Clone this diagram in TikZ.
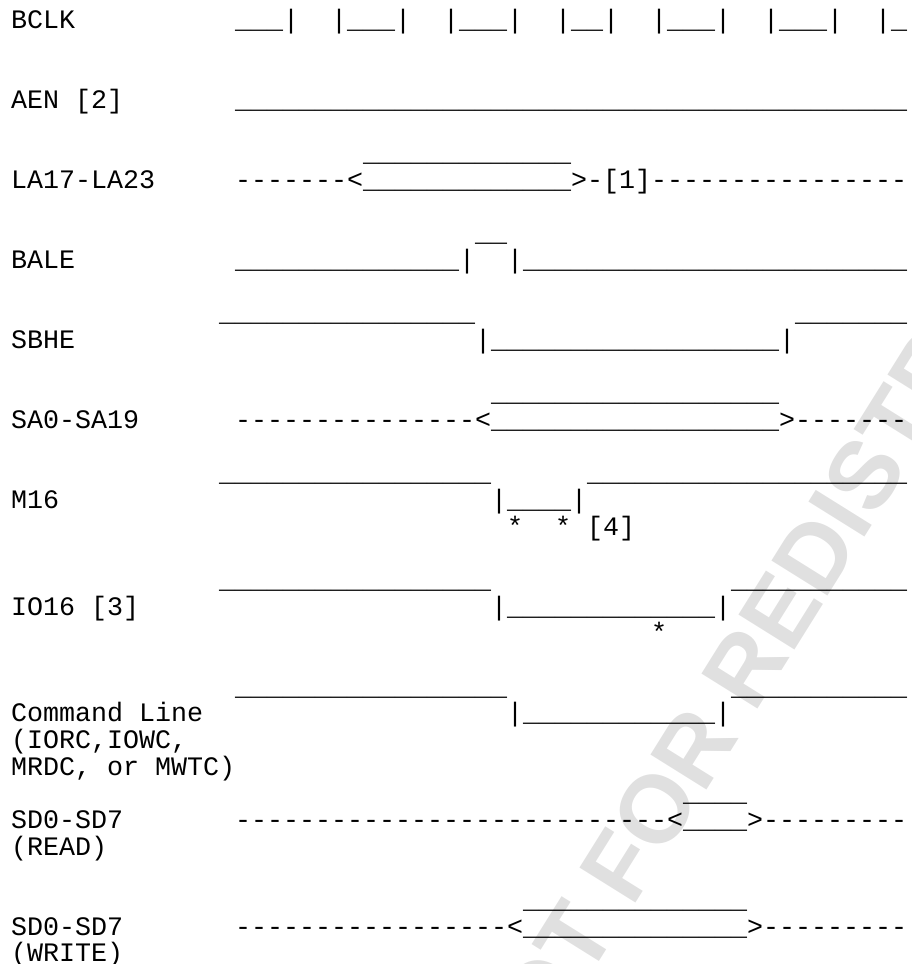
\documentclass[tikz,border=0pt]{standalone}
\usepackage{fontspec}
\setmonofont{Liberation Mono}
\setsansfont{Liberation Sans}
\begin{document}
\catcode`\_=12
\begin{tikzpicture}[
		x=16pt, y=-26.667pt, % one character cell, one text row
		lbl/.style={anchor=base west, inner sep=0pt, font=\ttfamily\fontsize{26.667}{26.667}\selectfont},
		wave/.style={lbl},
		stamp/.style={inner sep=0pt, rotate=58, text=black!12, font=\sffamily\bfseries\fontsize{96}{96}\selectfont}
		]
		\useasboundingbox (-0.6875,-1.0688) rectangle (56.3125,35.081);
		% Watermark
		\node[stamp] (stamp) at (50.625,19.37) {NOT FOR REDISTRIBUTION};
		% BCLK
		\node[lbl] (bclk) at (0,0) {BCLK};
		\node[wave] (bclkW) at (14,0) {___|~~|___|~~|___|~~|__|~~|___|~~|___|~~|_};
		% AEN
		\node[lbl] (aen) at (0,3) {AEN [2]};
		\node[wave] (aenW) at (14,3) {__________________________________________};
		% LA17-LA23
		\node[wave] (laHi) at (22,5) {_____________};
		\node[lbl] (la) at (0,6) {LA17-LA23};
		\node[wave] (laW) at (14,6) {-------<_____________>-[1]----------------};
		% BALE
		\node[wave] (baleHi) at (29,8) {__};
		\node[lbl] (bale) at (0,9) {BALE};
		\node[wave] (baleW) at (14,9) {______________|~~|________________________};
		% SBHE
		\node[wave] (sbheHiA) at (13,11) {________________};
		\node[wave] (sbheHiB) at (49,11) {_______};
		\node[lbl] (sbhe) at (0,12) {SBHE};
		\node[wave] (sbheW) at (29,12) {|__________________|};
		% SA0-SA19
		\node[wave] (saHi) at (30,14) {__________________};
		\node[lbl] (sa) at (0,15) {SA0-SA19};
		\node[wave] (saW) at (14,15) {---------------<__________________>-------};
		% M16
		\node[wave] (mHiA) at (13,17) {_________________};
		\node[wave] (mHiB) at (36,17) {____________________};
		\node[lbl] (m) at (0,18) {M16};
		\node[wave] (mW) at (30,18) {|____|};
		\node[wave] (mNote) at (31,19) {*~~*~[4]};
		% IO16
		\node[wave] (ioHiA) at (13,21) {_________________};
		\node[wave] (ioHiB) at (45,21) {___________};
		\node[lbl] (io) at (0,22) {IO16 [3]};
		\node[wave] (ioW) at (30,22) {|_____________|};
		\node[wave] (ioNote) at (40,23) {*};
		% Command line
		\node[wave] (cmdHiA) at (14,25) {_________________};
		\node[wave] (cmdHiB) at (45,25) {___________};
		\node[lbl] (cmd) at (0,26) {Command Line};
		\node[lbl] (cmdB) at (0,27) {(IORC,IOWC,};
		\node[lbl] (cmdC) at (0,28) {MRDC, or MWTC)};
		\node[wave] (cmdW) at (31,26) {|____________|};
		% SD0-SD7 read
		\node[wave] (rdHi) at (42,29) {____};
		\node[lbl] (rd) at (0,30) {SD0-SD7};
		\node[lbl] (rdB) at (0,31) {(READ)};
		\node[wave] (rdW) at (14,30) {---------------------------<____>---------};
		% SD0-SD7 write
		\node[wave] (wrHi) at (32,33) {______________};
		\node[lbl] (wr) at (0,34) {SD0-SD7};
		\node[lbl] (wrB) at (0,35) {(WRITE)};
		\node[wave] (wrW) at (14,34) {-----------------<______________>---------};
	\end{tikzpicture}
\end{document}
